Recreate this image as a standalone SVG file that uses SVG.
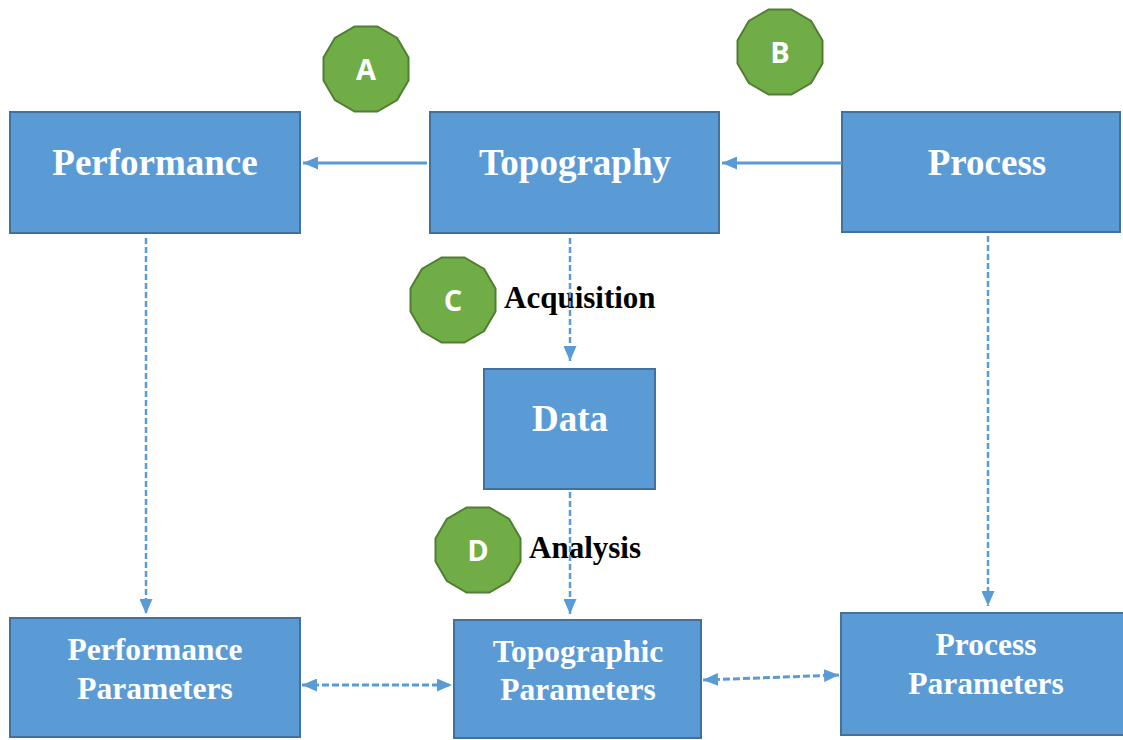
<svg xmlns="http://www.w3.org/2000/svg" width="1123" height="740" viewBox="0 0 1123 740">
<style>
.box{fill:#5B9BD5;stroke:#41719C;stroke-width:2}
.t1{font-family:"Liberation Serif","Times New Roman",serif;font-weight:bold;font-size:37px;fill:#fff;text-anchor:middle}
.t2{font-family:"Liberation Serif","Times New Roman",serif;font-weight:bold;font-size:31.5px;fill:#fff;text-anchor:middle}
.lbl{font-family:"Liberation Serif","Times New Roman",serif;font-weight:bold;font-size:31px;fill:#000}
.badge{fill:#70AD47;stroke:#507E32;stroke-width:2}
.bt{font-family:"Open Sans","Liberation Sans",Arial,sans-serif;font-weight:bold;font-size:29px;fill:#fff;text-anchor:middle}
.solid{stroke:#5B9BD5;stroke-width:3;fill:none}
.dash{stroke:#5B9BD5;stroke-width:2.5;stroke-dasharray:6 3;fill:none}
.dash3{stroke:#5B9BD5;stroke-width:3;stroke-dasharray:7 3;fill:none}
</style>
<defs>
<marker id="ah" viewBox="0 0 15 13" refX="15" refY="6.5" markerWidth="15" markerHeight="13" markerUnits="userSpaceOnUse" orient="auto-start-reverse">
<path d="M0,0 L15,6.5 L0,13 z" fill="#5B9BD5"/>
</marker>
<polygon id="dodec" points="42.5,11.39 31.11,31.11 11.39,42.5 -11.39,42.5 -31.11,31.11 -42.5,11.39 -42.5,-11.39 -31.11,-31.11 -11.39,-42.5 11.39,-42.5 31.11,-31.11 42.5,-11.39"/>
</defs>
<rect width="1123" height="740" fill="#fff"/>

<g id="performance">
<rect class="box" x="10" y="112" width="290" height="121"/>
<text class="t1" x="155" y="175">Performance</text>
</g>
<g id="topography">
<rect class="box" x="430" y="112" width="289" height="121"/>
<text class="t1" x="575" y="175">Topography</text>
</g>
<g id="process">
<rect class="box" x="842" y="112" width="278" height="120"/>
<text class="t1" x="987" y="175">Process</text>
</g>
<g id="data">
<rect class="box" x="484" y="369" width="171" height="120"/>
<text class="t1" x="570" y="431">Data</text>
</g>
<g id="performance-parameters">
<rect class="box" x="10" y="618" width="290" height="119"/>
<text class="t2" x="155" y="660">Performance</text>
<text class="t2" x="155" y="699">Parameters</text>
</g>
<g id="topographic-parameters">
<rect class="box" x="454" y="620" width="247" height="118"/>
<text class="t2" x="578" y="662">Topographic</text>
<text class="t2" x="578" y="700">Parameters</text>
</g>
<g id="process-parameters">
<rect class="box" x="841" y="613" width="290" height="122"/>
<text class="t2" x="986" y="655">Process</text>
<text class="t2" x="986" y="694">Parameters</text>
</g>

<g id="badge-a">
<use href="#dodec" class="badge" transform="translate(366,69)"/>
<text class="bt" x="366" y="80">A</text>
</g>
<g id="badge-b">
<use href="#dodec" class="badge" transform="translate(780,52)"/>
<text class="bt" x="780" y="63">B</text>
</g>
<g id="badge-c">
<use href="#dodec" class="badge" transform="translate(453,300)"/>
<text class="bt" x="453" y="311">C</text>
</g>
<g id="badge-d">
<use href="#dodec" class="badge" transform="translate(478,550)"/>
<text class="bt" x="478" y="561">D</text>
</g>

<g id="labels">
<text class="lbl" x="504" y="308">Acquisition</text>
<text class="lbl" x="529" y="558">Analysis</text>
</g>

<g id="connectors">
<line class="solid" x1="427" y1="163" x2="303" y2="163" marker-end="url(#ah)"/>
<line class="solid" x1="842" y1="163" x2="722" y2="163" marker-end="url(#ah)"/>
<line class="dash" x1="146" y1="238" x2="146" y2="614" marker-end="url(#ah)"/>
<line class="dash" x1="570" y1="238" x2="570" y2="361" marker-end="url(#ah)"/>
<line class="dash" x1="570" y1="492" x2="570" y2="614" marker-end="url(#ah)"/>
<line class="dash" x1="988" y1="236" x2="988" y2="606" marker-end="url(#ah)"/>
<line class="dash3" x1="302" y1="685" x2="452" y2="685" marker-start="url(#ah)" marker-end="url(#ah)"/>
<line class="dash3" x1="703" y1="680" x2="839" y2="675" marker-start="url(#ah)" marker-end="url(#ah)"/>
</g>
</svg>
